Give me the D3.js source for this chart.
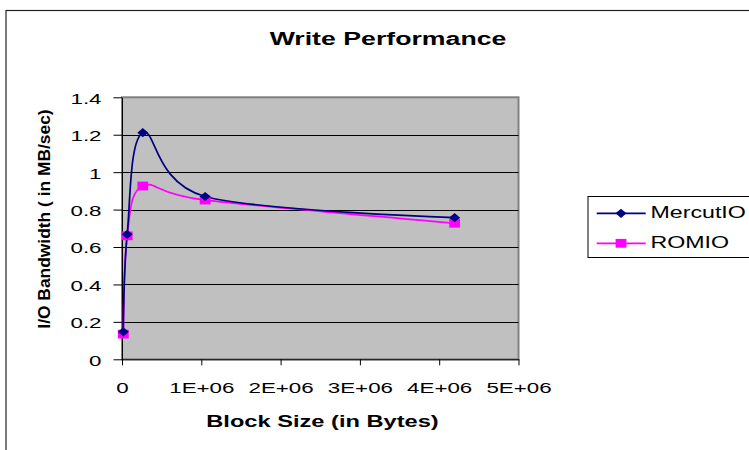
<!DOCTYPE html>
<html>
<head>
<meta charset="utf-8">
<script src="https://cdn.jsdelivr.net/npm/d3@7"></script>
<style>
  html, body { margin: 0; padding: 0; background: #fff; }
  svg { display: block; }
  text { font-family: "Liberation Sans", Arial, sans-serif; fill: #000; }
</style>
</head>
<body>
<svg id="chart" width="749" height="450"></svg>
<script>
// Block sizes written (bytes)
const blockSizes = [16384, 65536, 262144, 1048576, 4194304];
// Write bandwidth, MB/sec
const mercutIO = [0.147, 0.668, 1.211, 0.870, 0.757];
const romio    = [0.135, 0.659, 0.926, 0.851, 0.727];

const seriesNames = ["MercutIO", "ROMIO"];
const seriesColors = ["#000080", "#FF00FF"];

const xTicks = [0, 1e6, 2e6, 3e6, 4e6, 5e6];
const xTickLabels = ["0", "1E+06", "2E+06", "3E+06", "4E+06", "5E+06"];
const yTicks = [0, 0.2, 0.4, 0.6, 0.8, 1.0, 1.2, 1.4];
const yTickLabels = ["0", "0.2", "0.4", "0.6", "0.8", "1", "1.2", "1.4"];

const SX = 1.45; // horizontal text widening used throughout the chart

const svg = d3.select("#chart");
const plot = { left: 122, right: 518.5, top: 97.3, bottom: 359.3 };

const x = d3.scaleLinear().domain([0, 5e6]).range([plot.left, plot.right]);
const y = d3.scaleLinear().domain([0, 1.4]).range([plot.bottom, plot.top]);

// outer chart frame
svg.append("rect")
  .attr("x", 6).attr("y", 10.5)
  .attr("width", 760).attr("height", 460)
  .attr("fill", "#fff").attr("stroke", "#222").attr("stroke-width", 1.2);

// title
svg.append("text")
  .attr("transform", `translate(388,45) scale(${SX * 0.995},1)`)
  .attr("text-anchor", "middle")
  .attr("font-weight", "bold")
  .attr("font-size", 18.5)
  .text("Write Performance");

// plot area background
svg.append("rect")
  .attr("x", plot.left).attr("y", plot.top)
  .attr("width", plot.right - plot.left).attr("height", plot.bottom - plot.top)
  .attr("fill", "#C0C0C0").attr("stroke", "#808080").attr("stroke-width", 2);

// horizontal gridlines
svg.append("g").selectAll("line")
  .data(yTicks.filter(v => v > 0 && v < 1.4))
  .join("line")
  .attr("x1", plot.left).attr("x2", plot.right)
  .attr("y1", d => Math.round(y(d)) + 0.5).attr("y2", d => Math.round(y(d)) + 0.5)
  .attr("stroke", "#000").attr("stroke-width", 1);

// x axis
const xAxis = svg.append("g")
  .attr("transform", `translate(0,${plot.bottom})`)
  .call(d3.axisBottom(x).tickValues(xTicks)
    .tickFormat((d, i) => xTickLabels[i]).tickSize(6).tickSizeOuter(0));
xAxis.select(".domain").attr("stroke", "#000");
xAxis.selectAll(".tick line").attr("stroke", "#000");
xAxis.selectAll(".tick text")
  .attr("y", 33.4).attr("dy", 0)
  .attr("font-size", 15.4)
  .attr("font-family", "Liberation Sans, Arial, sans-serif")
  .attr("transform", `scale(${SX},1)`);

// y axis
const yAxis = svg.append("g")
  .attr("transform", `translate(${plot.left},0)`)
  .call(d3.axisLeft(y).tickValues(yTicks)
    .tickFormat((d, i) => yTickLabels[i]).tickSize(8.5).tickSizeOuter(0));
yAxis.select(".domain").attr("stroke", "#000");
yAxis.selectAll(".tick line").attr("stroke", "#000");
yAxis.selectAll(".tick text")
  .attr("x", -20.5 / SX).attr("dy", "0.38em")
  .attr("font-size", 15.4)
  .attr("font-family", "Liberation Sans, Arial, sans-serif")
  .attr("transform", `scale(${SX},1)`);

// axis titles
svg.append("text")
  .attr("transform", `translate(322.5,426.7) scale(${SX},1)`)
  .attr("text-anchor", "middle")
  .attr("font-weight", "bold")
  .attr("font-size", 16.3)
  .text("Block Size (in Bytes)");

svg.append("text")
  .attr("transform", "translate(50,219) rotate(-90)")
  .attr("text-anchor", "middle")
  .attr("font-weight", "bold")
  .attr("font-size", 17.4)
  .text("I/O Bandwidth ( in MB/sec)");

// series
const allSeries = [mercutIO, romio];
const line = d3.line()
  .x(d => x(d[0]))
  .y(d => y(d[1]))
  .curve(d3.curveCardinal.tension(0));

const diamond = (cx, cy) => `M${cx - 5.5},${cy}L${cx},${cy - 4.6}L${cx + 5.5},${cy}L${cx},${cy + 4.6}Z`;
const square = (cx, cy) => `M${cx - 5.4},${cy - 4.4}h10.8v8.8h-10.8Z`;
const markers = [diamond, square];

// draw ROMIO first, MercutIO on top
[1, 0].forEach(s => {
  const pts = blockSizes.map((b, i) => [b, allSeries[s][i]]);
  svg.append("path")
    .datum(pts)
    .attr("d", line)
    .attr("fill", "none")
    .attr("stroke", seriesColors[s])
    .attr("stroke-width", 1.7);
});
[1, 0].forEach(s => {
  const pts = blockSizes.map((b, i) => [b, allSeries[s][i]]);
  svg.append("g").selectAll("path")
    .data(pts)
    .join("path")
    .attr("d", d => markers[s](x(d[0]), y(d[1])))
    .attr("fill", seriesColors[s]);
});

// legend
const legend = svg.append("g");
legend.append("rect")
  .attr("x", 588).attr("y", 196.5)
  .attr("width", 200).attr("height", 61)
  .attr("fill", "#fff").attr("stroke", "#000").attr("stroke-width", 1);
const rowsY = [213.3, 243.3];
seriesNames.forEach((name, s) => {
  const ry = rowsY[s];
  legend.append("line")
    .attr("x1", 596.7).attr("x2", 645.7)
    .attr("y1", ry).attr("y2", ry)
    .attr("stroke", seriesColors[s]).attr("stroke-width", 1.7);
  legend.append("path")
    .attr("d", markers[s](621, ry))
    .attr("fill", seriesColors[s]);
  legend.append("text")
    .attr("transform", `translate(650.5,${ry + 4.3}) scale(${SX},1)`)
    .attr("font-size", 16)
    .text(name);
});
</script>
</body>
</html>
